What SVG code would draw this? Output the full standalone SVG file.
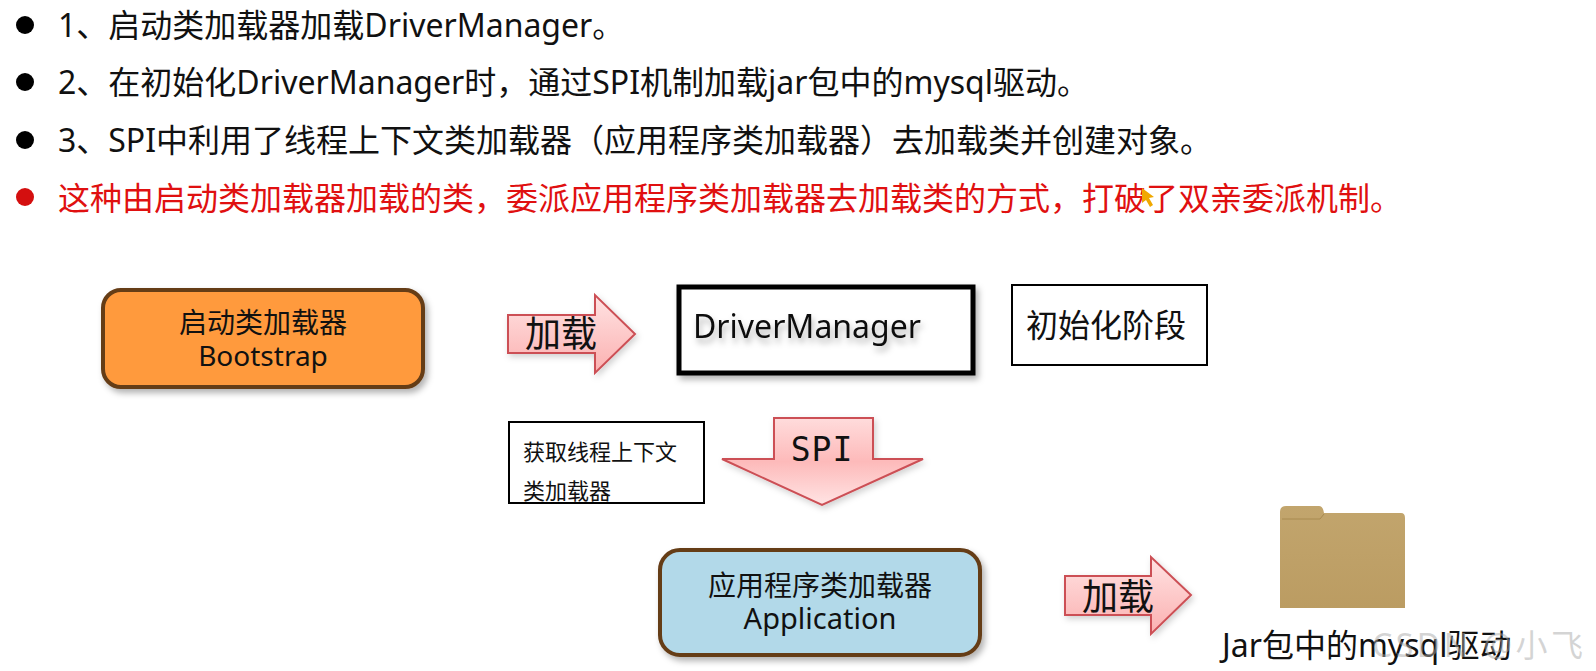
<svg xmlns="http://www.w3.org/2000/svg" width="1596" height="671" viewBox="0 0 1596 671">
<style>
text{font-family:"Noto Sans","Noto Sans CJK SC",sans-serif;fill:#111}
.b{font-size:32px}
.r{fill:#e01010}
.m{font-size:28px;text-anchor:middle}
.big{font-size:36px}
.ar{fill:url(#pink);stroke:#cc4f55;stroke-width:2;filter:url(#sa)}
.plain{fill:#fff;stroke:#000;stroke-width:2}
.rr{stroke:#653c17;stroke-width:4;filter:url(#sh)}
</style>
<defs>
<linearGradient id="pink" x1="0" y1="0" x2="0" y2="1"><stop offset="0" stop-color="#ffe3e3"/><stop offset="1" stop-color="#fbb0b0"/></linearGradient>
<linearGradient id="pinkd" x1="0" y1="0" x2="0" y2="1"><stop offset="0" stop-color="#ffdcdc"/><stop offset=".5" stop-color="#fdbaba"/><stop offset="1" stop-color="#ffe4e4"/></linearGradient>
<linearGradient id="tan" x1="0" y1="0" x2="0" y2="1"><stop offset="0" stop-color="#c2a56d"/><stop offset="1" stop-color="#bb9c62"/></linearGradient>
<filter id="sh" x="-10%" y="-20%" width="125%" height="145%"><feDropShadow dx="3" dy="4" stdDeviation="3" flood-color="#000" flood-opacity=".3"/></filter>
<filter id="sa" x="-10%" y="-20%" width="125%" height="145%"><feDropShadow dx="2" dy="3" stdDeviation="3" flood-color="#000" flood-opacity=".18"/></filter>
<filter id="ts" x="-5%" y="-20%" width="115%" height="150%"><feDropShadow dx="2" dy="5" stdDeviation="3" flood-color="#000" flood-opacity=".3"/></filter>
</defs>
<rect width="1596" height="671" fill="#fff"/>
<g id="bullets">
<circle cx="25" cy="25" r="9" fill="#000"/><circle cx="25" cy="82" r="9" fill="#000"/><circle cx="25" cy="140" r="9" fill="#000"/><circle cx="25" cy="197" r="9" fill="#d40f0f"/>
<text class="b" x="58" y="37">1、启动类加载器加载DriverManager。</text>
<text class="b" x="58" y="94">2、在初始化DriverManager时，通过SPI机制加载jar包中的mysql驱动。</text>
<text class="b" x="58" y="152">3、SPI中利用了线程上下文类加载器（应用程序类加载器）去加载类并创建对象。</text>
<text class="b r" x="58" y="210">这种由启动类加载器加载的类，委派应用程序类加载器去加载类的方式，打破了双亲委派机制。</text>
<path d="M1142 188l0 15 4-3 4 7 3-2-4-7 5-1z" fill="#f0a800"/>
</g>
<g id="connectors">
<g id="arrow1"><path class="ar" d="M508 315H595V295L635 334 595 373V353H508Z"/><text class="big" x="525" y="347">加载</text></g>
<g id="arrow2"><path class="ar" style="fill:url(#pinkd)" d="M774 418H873V459H923L822 505 722 459H774Z"/><text x="822" y="461" text-anchor="middle" letter-spacing="1" style="font-family:'DejaVu Sans Mono','Liberation Mono',monospace;font-size:33px">SPI</text></g>
<g id="arrow3"><path class="ar" d="M1065 576H1151V557L1191 595 1151 634V615H1065Z"/><text class="big" x="1082" y="610">加载</text></g>
</g>
<g id="bootstrap"><rect class="rr" x="103" y="290" width="320" height="97" rx="18" fill="#ff9a3d"/><text class="m" x="263" y="333">启动类加载器<tspan x="263" y="366">Bootstrap</tspan></text></g>
<g id="driver-manager"><rect x="679" y="287" width="294" height="86" fill="#fff" stroke="#000" stroke-width="5" filter="url(#sh)"/><text class="b" x="693" y="338" filter="url(#ts)">DriverManager</text></g>
<g id="init-stage"><rect class="plain" x="1012" y="285" width="195" height="80"/><text class="b" x="1026" y="337">初始化阶段</text></g>
<g id="thread-context"><rect class="plain" x="509" y="422" width="195" height="81"/><text font-size="22" x="523" y="460">获取线程上下文<tspan x="523" y="499">类加载器</tspan></text></g>
<g id="application"><rect class="rr" x="660" y="550" width="320" height="105" rx="20" fill="#b2d9e9"/><text class="m" x="820" y="596">应用程序类加载器<tspan x="820" y="629" font-size="29">Application</tspan></text></g>
<g id="jar"><path d="M1280 512q0-6 6-6h33q4 0 5 7h77q4 0 4 5V608H1280Z" fill="url(#tan)"/><path d="M1282 519h38l4-5" fill="none" stroke="#a88a50" stroke-width="1"/><text class="b" x="1222" y="657">Jar包中的mysql驱动</text></g>
<text x="1372" y="657" font-size="32" letter-spacing="3.5" style="fill:#aaa;fill-opacity:.5">CSDN @小飞</text>
</svg>
